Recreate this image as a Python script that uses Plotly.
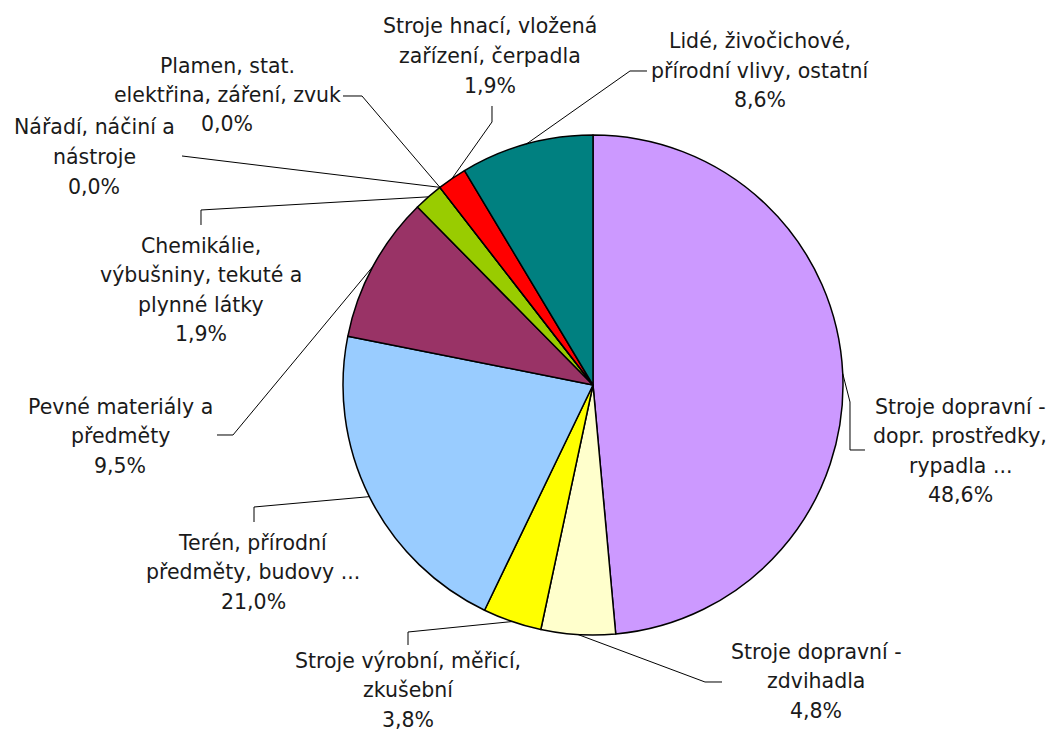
import math
import plotly.graph_objects as go

W, H = 1054, 731

labels = [
    "Stroje dopravní -<br>dopr. prostředky,<br>rypadla ...",
    "Stroje dopravní -<br>zdvihadla",
    "Stroje výrobní, měřicí,<br>zkušební",
    "Terén, přírodní<br>předměty, budovy ...",
    "Pevné materiály a<br>předměty",
    "Chemikálie,<br>výbušniny, tekuté a<br>plynné látky",
    "Nářadí, náčiní a<br>nástroje",
    "Plamen, stat.<br>elektřina, záření, zvuk",
    "Stroje hnací, vložená<br>zařízení, čerpadla",
    "Lidé, živočichové,<br>přírodní vlivy, ostatní",
]
values = [48.6, 4.8, 3.8, 21.0, 9.5, 1.9, 0.0, 0.0, 1.9, 8.6]
colors = ["#CC99FF", "#FFFFCC", "#FFFF00", "#99CCFF", "#993366",
          "#99CC00", "#FF6600", "#3366FF", "#FF0000", "#008080"]

# label block centres and leader elbows (pixels in the target picture)
label_pos = [(960, 451), (816, 681), (408, 690), (253, 572), (120, 436),
             (201, 290), (94, 157), (227, 95), (490, 56), (760, 71)]
elbows = [
    [(865, 450), (850, 450), (850, 402)],
    [(722, 682), (705, 682)],
    [(408, 645), (408, 632)],
    [(254, 522), (254, 507)],
    [(217, 435), (233, 435)],
    [(201, 225), (201, 210)],
    [(182, 156)],
    [(343, 96), (362, 96)],
    [(492, 106), (492, 122)],
    [(647, 71), (630, 71)],
]

OFF = 8  # page body margin
cx, cy, R = 593 - OFF, 385 - OFF, 250
line_gap = 29.5
font = dict(family="DejaVu Sans, sans-serif", size=20.5, color="#1a1a1a")


def px(x, y):
    return (x - OFF) / W, 1 - (y - OFF) / H


fig = go.Figure(go.Pie(
    labels=[l.replace("<br>", " ") for l in labels],
    values=values,
    sort=False,
    direction="clockwise",
    rotation=0,
    marker=dict(colors=colors, line=dict(color="black", width=1.5)),
    textinfo="none",
    hoverinfo="label+percent",
    showlegend=False,
    domain=dict(x=[(cx - R) / W, (cx + R) / W], y=[1 - (cy + R) / H, 1 - (cy - R) / H]),
))

total = sum(values)
cum = 0
shapes = []
annotations = []
for lab, v, (lx, ly), elb in zip(labels, values, label_pos, elbows):
    mid = (cum + v / 2) / total * 2 * math.pi
    cum += v
    ax, ay = cx + OFF + R * math.sin(mid), cy + OFF - R * math.cos(mid)
    pts = elb + [(ax, ay)]
    path = ""
    for i, (x, y) in enumerate(pts):
        X, Y = px(x, y)
        path += ("M" if i == 0 else " L") + f" {X:.5f},{Y:.5f}"
    shapes.append(dict(type="path", path=path, xref="paper", yref="paper",
                       line=dict(color="black", width=1)))
    lines = lab.split("<br>") + [f"{v:.1f}".replace(".", ",") + "%"]
    n = len(lines)
    for i, t in enumerate(lines):
        X, Y = px(lx, ly + (i - (n - 1) / 2) * line_gap)
        annotations.append(dict(text=t, x=X, y=Y, xref="paper", yref="paper",
                                xanchor="center", yanchor="middle",
                                showarrow=False, font=font))

fig.update_layout(
    width=W, height=H,
    margin=dict(l=0, r=0, t=0, b=0),
    paper_bgcolor="white",
    plot_bgcolor="white",
    shapes=shapes,
    annotations=annotations,
)
fig.write_html("out.html")
